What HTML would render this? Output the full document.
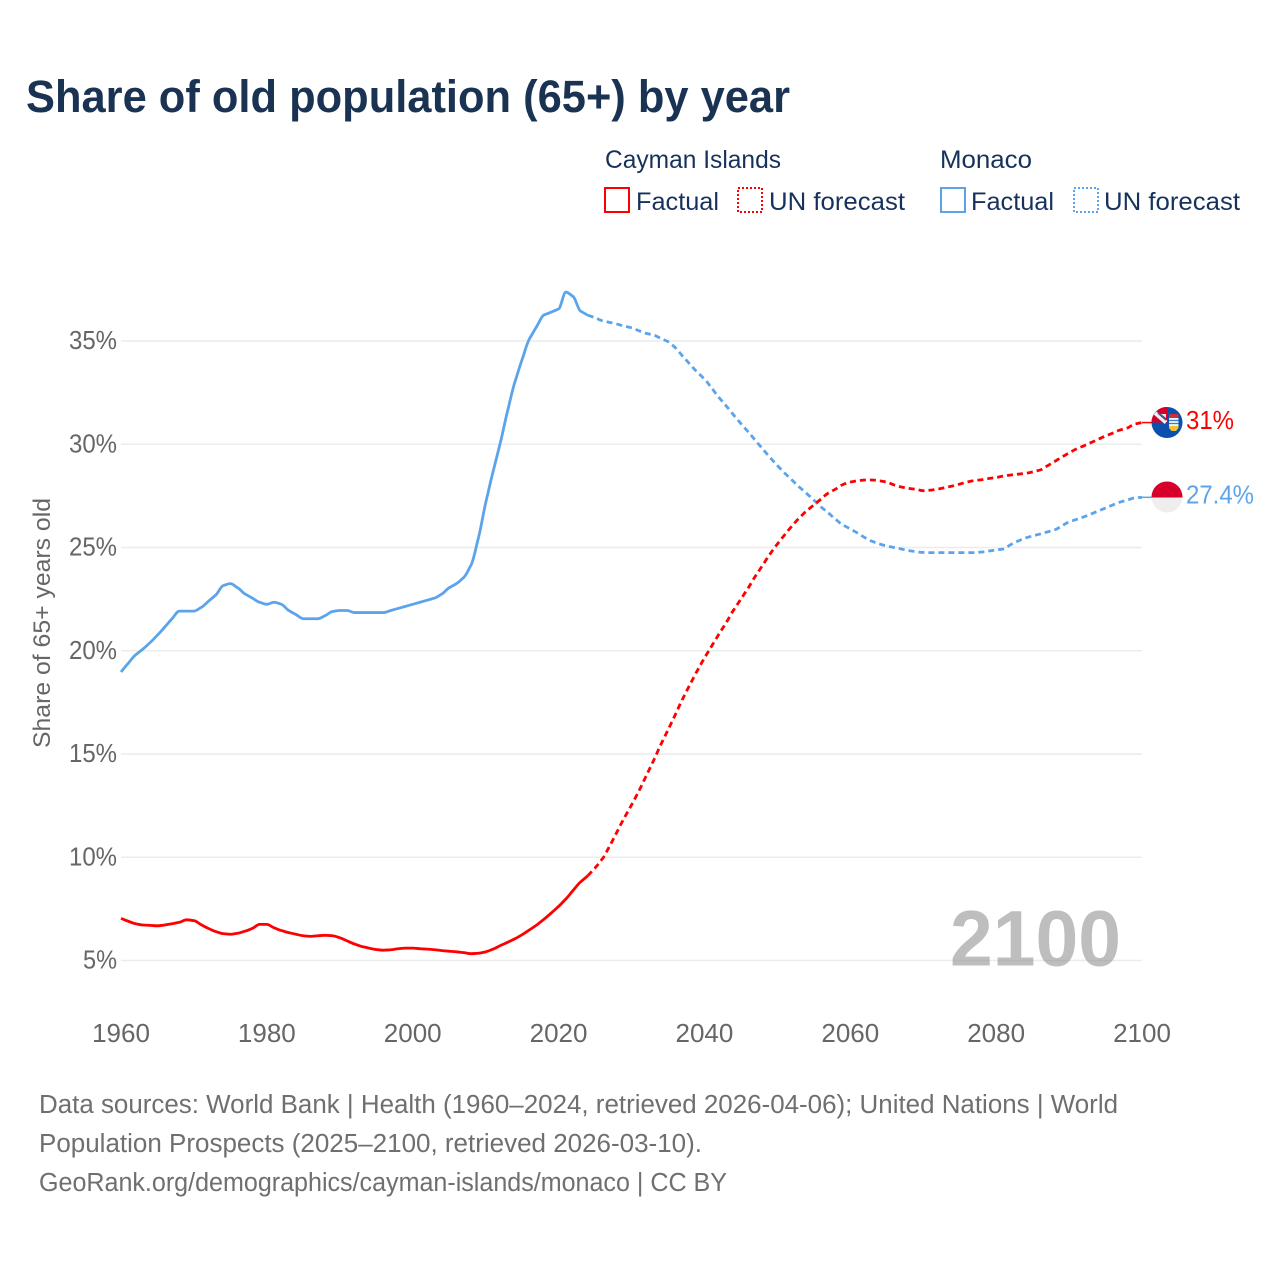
<!DOCTYPE html>
<html lang="en">
<head>
<meta charset="utf-8">
<title>Share of old population (65+) by year</title>
<style>
html,body{margin:0;padding:0;background:#fff;}
svg{display:block;font-family:"Liberation Sans",sans-serif;}
</style>
</head>
<body>
<svg id="chart" xmlns="http://www.w3.org/2000/svg" width="1280" height="1280" viewBox="0 0 1280 1280">
<defs>
<clipPath id="flag-clip-a"><circle cx="1167" cy="422.5" r="15.5"/></clipPath>
<clipPath id="flag-clip-b"><circle cx="1167" cy="497" r="15.5"/></clipPath>
</defs>
<rect width="1280" height="1280" fill="#fff"/>
<text x="26" y="112" font-size="45" font-weight="700" fill="#1a3353" textLength="764" lengthAdjust="spacingAndGlyphs">Share of old population (65+) by year</text>

<g font-size="25" fill="#16325c">
<text x="605" y="168" textLength="176" lengthAdjust="spacingAndGlyphs">Cayman Islands</text>
<text x="940" y="168" textLength="92" lengthAdjust="spacingAndGlyphs">Monaco</text>
<rect x="605" y="188" width="24" height="24" fill="none" stroke="#ff0000" stroke-width="2"/>
<text x="636" y="210" textLength="83" lengthAdjust="spacingAndGlyphs">Factual</text>
<rect x="738" y="188" width="24" height="24" fill="none" stroke="#ff0000" stroke-width="2" stroke-dasharray="2 2"/>
<text x="769" y="210" textLength="136" lengthAdjust="spacingAndGlyphs">UN forecast</text>
<rect x="941" y="188" width="24" height="24" fill="none" stroke="#5ba4ec" stroke-width="2"/>
<text x="971" y="210" textLength="83" lengthAdjust="spacingAndGlyphs">Factual</text>
<rect x="1074" y="188" width="24" height="24" fill="none" stroke="#5ba4ec" stroke-width="2" stroke-dasharray="2 2"/>
<text x="1104" y="210" textLength="136" lengthAdjust="spacingAndGlyphs">UN forecast</text>
</g>

<g id="grid"></g>
<g id="yticks" font-size="26" fill="#666" text-anchor="end"></g>
<g id="xticks" font-size="26" fill="#666" text-anchor="middle"></g>
<text transform="translate(50,623) rotate(-90)" font-size="24" fill="#666" text-anchor="middle" textLength="250" lengthAdjust="spacingAndGlyphs">Share of 65+ years old</text>

<text x="950" y="965.5" font-size="79" font-weight="700" fill="#888" fill-opacity="0.55" textLength="171" lengthAdjust="spacingAndGlyphs">2100</text>

<g id="series"></g>

<g clip-path="url(#flag-clip-a)">
<rect x="1151" y="406" width="32" height="33" fill="#0b50ab"/>
<rect x="1151" y="406" width="16" height="16.5" fill="#d80027"/>
<path d="M1155 413L1166 422.5" stroke="#f0f0f0" stroke-width="4"/>
<path d="M1158 413L1166 420" stroke="#3b5aa5" stroke-width="1.5"/>
<path d="M1161 414H1166V418Z" fill="#f0f0f0"/>
<rect x="1169" y="414" width="9.5" height="4" fill="#c8313f"/>
<rect x="1169" y="418" width="9.5" height="8" fill="#eef4fa"/>
<path d="M1169 420.5H1178.5M1169 423.5H1178.5" stroke="#3a7cc8" stroke-width="1.2"/>
<path d="M1169 426H1178.5V428L1176 431H1171.5L1169 428Z" fill="#f2c230"/>
</g>
<g clip-path="url(#flag-clip-b)">
<rect x="1151" y="481" width="32" height="16.5" fill="#d7002a"/>
<rect x="1151" y="497.5" width="32" height="16" fill="#eeeeee"/>
</g>
<text x="1186" y="429" font-size="25.5" fill="#ff0000" textLength="48" lengthAdjust="spacingAndGlyphs">31%</text>
<text x="1186" y="503.5" font-size="25.5" fill="#5ba4ec" textLength="68" lengthAdjust="spacingAndGlyphs">27.4%</text>

<g font-size="25.5" fill="#6f6f6f">
<text x="39" y="1113" textLength="1079" lengthAdjust="spacingAndGlyphs">Data sources: World Bank | Health (1960–2024, retrieved 2026-04-06); United Nations | World</text>
<text x="39" y="1152" textLength="663" lengthAdjust="spacingAndGlyphs">Population Prospects (2025–2100, retrieved 2026-03-10).</text>
<text x="39" y="1191" textLength="688" lengthAdjust="spacingAndGlyphs">GeoRank.org/demographics/cayman-islands/monaco | CC BY</text>
</g>
</svg>
<script>
const yTickValues = [5, 10, 15, 20, 25, 30, 35];
const xTickYears = [1960, 1980, 2000, 2020, 2040, 2060, 2080, 2100];
const factualStartYear = 1960;
const forecastStartYear = 2024;

const caymanFactual = [7.04,6.9,6.78,6.72,6.7,6.68,6.72,6.78,6.85,6.97,6.93,6.73,6.55,6.4,6.3,6.27,6.32,6.42,6.55,6.75,6.75,6.58,6.45,6.35,6.27,6.2,6.17,6.2,6.22,6.2,6.1,5.95,5.8,5.68,5.6,5.53,5.5,5.52,5.57,5.6,5.6,5.57,5.55,5.52,5.48,5.45,5.42,5.38,5.33,5.35,5.42,5.55,5.72,5.88,6.05,6.25,6.48,6.72,7.0,7.3,7.62,7.98,8.4,8.8,9.1];
const caymanForecast = [9.1,9.48,9.92,10.54,11.22,11.9,12.53,13.2,13.93,14.66,15.44,16.16,16.9,17.66,18.35,19.02,19.65,20.23,20.81,21.37,21.97,22.5,23.04,23.62,24.15,24.69,25.17,25.61,26.04,26.43,26.77,27.06,27.35,27.64,27.83,28.05,28.17,28.23,28.27,28.27,28.23,28.17,28.03,27.93,27.86,27.82,27.75,27.78,27.83,27.9,27.98,28.07,28.17,28.24,28.28,28.34,28.39,28.46,28.51,28.55,28.59,28.66,28.75,28.95,29.16,29.38,29.58,29.77,29.92,30.08,30.24,30.4,30.54,30.69,30.79,30.98,31.05];

const monacoFactual = [18.97,19.4,19.8,20.08,20.4,20.76,21.15,21.55,21.92,21.92,21.92,22.1,22.4,22.7,23.15,23.25,23.05,22.75,22.55,22.35,22.25,22.35,22.25,21.95,21.75,21.55,21.55,21.55,21.7,21.9,21.95,21.95,21.85,21.85,21.85,21.85,21.85,21.95,22.05,22.15,22.25,22.35,22.45,22.55,22.75,23.05,23.25,23.55,24.15,25.45,27.15,28.65,30.05,31.6,33.0,34.1,35.1,35.7,36.26,36.4,36.55,37.37,37.15,36.45,36.25];
const monacoForecast = [36.25,36.13,35.98,35.9,35.82,35.72,35.64,35.5,35.37,35.29,35.13,34.97,34.68,34.27,33.88,33.5,33.16,32.72,32.26,31.85,31.42,31.0,30.6,30.18,29.77,29.36,28.97,28.6,28.27,27.93,27.62,27.3,26.96,26.67,26.36,26.09,25.9,25.7,25.48,25.3,25.17,25.07,25.0,24.93,24.85,24.8,24.76,24.75,24.75,24.75,24.75,24.75,24.75,24.75,24.78,24.83,24.88,24.93,25.14,25.31,25.46,25.56,25.65,25.75,25.85,26.04,26.24,26.36,26.48,26.62,26.77,26.91,27.06,27.2,27.3,27.4,27.43];

const svgNS = 'http://www.w3.org/2000/svg';
function xScale(year) { return 121 + (year - 1960) * (1142 - 121) / 140; }
function yScale(value) { return 960.5 - (value - 5) * (960.5 - 341) / 30; }

/* monotone-x interpolation through evenly spaced yearly points */
function linePath(values, startYear) {
  const ys = values.map(yScale);
  const h = xScale(startYear + 1) - xScale(startYear);
  const n = ys.length;
  const slopes = [];
  const tangents = [];
  for (let i = 0; i < n - 1; i++) { slopes.push((ys[i + 1] - ys[i]) / h); }
  for (let i = 0; i < n; i++) {
    if (i === 0) { tangents.push(slopes[0]); }
    else if (i === n - 1) { tangents.push(slopes[n - 2]); }
    else if (slopes[i - 1] * slopes[i] <= 0) { tangents.push(0); }
    else {
      const sign = slopes[i] > 0 ? 1 : -1;
      const a = Math.abs(slopes[i - 1]);
      const b = Math.abs(slopes[i]);
      tangents.push(sign * Math.min(a, b, 0.5 * (a + b)));
    }
  }
  let d = 'M' + xScale(startYear).toFixed(2) + ' ' + ys[0].toFixed(2);
  for (let i = 0; i < n - 1; i++) {
    const x0 = xScale(startYear + i);
    const x1 = xScale(startYear + i + 1);
    d += 'C' + (x0 + h / 3).toFixed(2) + ' ' + (ys[i] + tangents[i] * h / 3).toFixed(2) + ' ' +
      (x1 - h / 3).toFixed(2) + ' ' + (ys[i + 1] - tangents[i + 1] * h / 3).toFixed(2) + ' ' +
      x1.toFixed(2) + ' ' + ys[i + 1].toFixed(2);
  }
  return d;
}

const gridGroup = document.getElementById('grid');
const yTickGroup = document.getElementById('yticks');
const xTickGroup = document.getElementById('xticks');
const seriesGroup = document.getElementById('series');

yTickValues.forEach(function (v) {
  const line = document.createElementNS(svgNS, 'line');
  
  
  line.setAttribute('x1', xScale(1960));
  line.setAttribute('x2', xScale(2100));
  line.setAttribute('y1', yScale(v));
  line.setAttribute('y2', yScale(v));
  line.setAttribute('stroke', '#ececec');
  line.setAttribute('stroke-width', '1.5');
  gridGroup.appendChild(line);

  const label = document.createElementNS(svgNS, 'text');
  
  
  label.setAttribute('x', 117);
  label.setAttribute('y', yScale(v) + 8);
  label.setAttribute('textLength', String(v).length > 1 ? 48 : 34);
  label.setAttribute('lengthAdjust', 'spacingAndGlyphs');
  label.textContent = v + '%';
  yTickGroup.appendChild(label);
});

xTickYears.forEach(function (year) {
  const label = document.createElementNS(svgNS, 'text');
  
  
  label.setAttribute('x', xScale(year));
  label.setAttribute('y', 1042);
  label.textContent = year;
  xTickGroup.appendChild(label);
});

function addSeries(name, values, startYear, color, dashed) {
  const path = document.createElementNS(svgNS, 'path');
  
  
  path.setAttribute('d', linePath(values, startYear));
  path.setAttribute('fill', 'none');
  path.setAttribute('stroke', color);
  path.setAttribute('stroke-width', '2.8');
  path.setAttribute('stroke-linejoin', 'round');
  if (dashed) { path.setAttribute('stroke-dasharray', '6 4'); }
  seriesGroup.appendChild(path);
}
function addLeader(name, value, color) {
  const line = document.createElementNS(svgNS, 'line');
  
  
  line.setAttribute('x1', xScale(2100));
  line.setAttribute('x2', 1153);
  line.setAttribute('y1', yScale(value));
  line.setAttribute('y2', yScale(value));
  line.setAttribute('stroke', color);
  line.setAttribute('stroke-width', '1.5');
  seriesGroup.appendChild(line);
}
addSeries('monaco-factual-line', monacoFactual, factualStartYear, '#5ba4ec', false);
addSeries('monaco-forecast-line', monacoForecast, forecastStartYear, '#5ba4ec', true);
addLeader('monaco-end-leader', monacoForecast[monacoForecast.length - 1], '#5ba4ec');
addSeries('cayman-factual-line', caymanFactual, factualStartYear, '#ff0000', false);
addSeries('cayman-forecast-line', caymanForecast, forecastStartYear, '#ff0000', true);
addLeader('cayman-end-leader', caymanForecast[caymanForecast.length - 1], '#ff0000');
</script>
</body>
</html>
